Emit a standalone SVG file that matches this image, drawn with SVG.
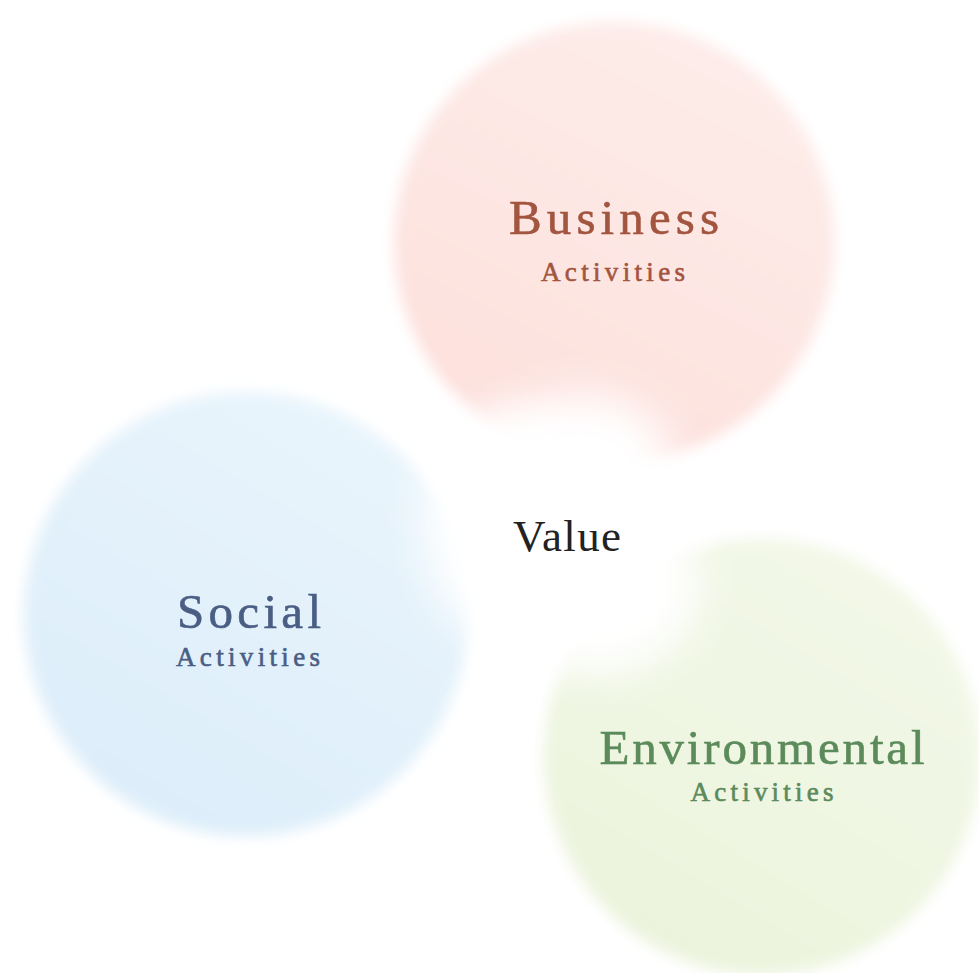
<svg xmlns="http://www.w3.org/2000/svg" width="979" height="973" viewBox="0 0 979 973">
  <defs>
    <filter id="soft" x="-20%" y="-20%" width="140%" height="140%">
      <feGaussianBlur stdDeviation="7"/>
    </filter>
    <filter id="haze" x="-50%" y="-50%" width="200%" height="200%">
      <feGaussianBlur stdDeviation="20"/>
    </filter>
    <linearGradient id="gBus" x1="0.8" y1="0" x2="0.3" y2="1">
      <stop offset="0" stop-color="#fdedea"/>
      <stop offset="1" stop-color="#fde0dc"/>
    </linearGradient>
    <linearGradient id="gSoc" x1="0.8" y1="0" x2="0.2" y2="1">
      <stop offset="0" stop-color="#e9f5fc"/>
      <stop offset="1" stop-color="#dcedf9"/>
    </linearGradient>
    <linearGradient id="gEnv" x1="0.8" y1="0" x2="0.2" y2="1">
      <stop offset="0" stop-color="#f3f8e8"/>
      <stop offset="1" stop-color="#ebf3dc"/>
    </linearGradient>
  </defs>
  <style>
    .lbl { font-family: "Liberation Serif", "DejaVu Serif", serif; text-anchor: middle; }
    .big { font-size: 49px; stroke-width: 0.6px; }
    .sub { font-size: 27px; stroke-width: 0.6px; }
    .bus { fill: #a2553f; stroke: #a2553f; }
    .soc { fill: #4a5e84; stroke: #4a5e84; }
    .env { fill: #5b8a5b; stroke: #5b8a5b; }
    .haze { fill: #ffffff; filter: url(#haze); }
  </style>
  <rect width="979" height="973" fill="#ffffff"/>

  <g id="business">
    <circle cx="614" cy="242" r="220" fill="url(#gBus)" filter="url(#soft)"/>
    <ellipse class="haze" cx="580" cy="460" rx="90" ry="65"/>
    <text class="lbl big bus" x="614" y="234" textLength="210" lengthAdjust="spacing">Business</text>
    <text class="lbl sub bus" x="613" y="281" textLength="144" lengthAdjust="spacing">Activities</text>
  </g>

  <g id="social">
    <circle cx="246" cy="614" r="222" fill="url(#gSoc)" filter="url(#soft)"/>
    <ellipse class="haze" cx="505" cy="525" rx="80" ry="115"/>
    <text class="lbl big soc" x="249" y="628" textLength="144" lengthAdjust="spacing">Social</text>
    <text class="lbl sub soc" x="248" y="666" textLength="144" lengthAdjust="spacing">Activities</text>
  </g>

  <g id="environmental">
    <circle cx="762" cy="757" r="218" fill="url(#gEnv)" filter="url(#soft)"/>
    <ellipse class="haze" cx="600" cy="585" rx="100" ry="90"/>
    <text class="lbl big env" x="762" y="764" textLength="325" lengthAdjust="spacing">Environmental</text>
    <text class="lbl sub env" x="762" y="801" textLength="143" lengthAdjust="spacing">Activities</text>
  </g>

  <g id="value">
    <text class="lbl" x="567" y="551" font-size="45" fill="#222222" textLength="108" lengthAdjust="spacing">Value</text>
  </g>

  <g id="connectors"/>
</svg>
